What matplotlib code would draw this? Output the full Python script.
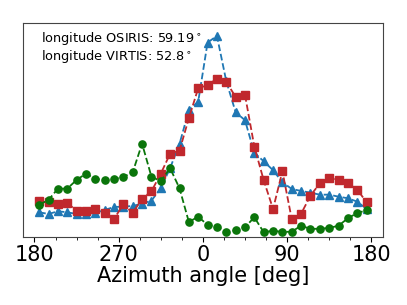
import numpy as np
import matplotlib
matplotlib.use("Agg")
import matplotlib.pyplot as plt
from matplotlib.ticker import FixedLocator, MultipleLocator

# ───────── Data ──────────────────────────────────────────────────────
azimuth = list(range(-175, 180, 10))

red_vals = [35.7, 34.7, 33.3, 34.0, 26.3, 25.7, 28.3, 24.0, 18.0, 32.7,
            24.0, 38.3, 45.7, 63.3, 83.3, 86.3, 118.7, 148.7, 151.7, 158.3,
            155.0, 140.0, 142.0, 90.3, 56.7, 28.0, 65.7, 17.7, 23.3, 41.3,
            53.7, 59.0, 57.3, 53.7, 47.3, 34.7]

blue_vals = [24.7, 23.0, 25.7, 24.7, 23.0, 23.0, 24.0, 27.0, 30.0, 30.3,
             31.0, 33.3, 36.3, 48.7, 69.0, 93.0, 126.7, 135.3, 194.3, 201.0,
             155.7, 124.7, 116.7, 84.0, 75.7, 66.7, 54.7, 48.0, 46.0, 44.3,
             42.3, 42.3, 40.3, 38.7, 35.3, 28.0]

green_vals = [32.3, 37.0, 48.3, 48.3, 57.0, 63.3, 58.0, 57.0, 58.0, 60.0,
              64.7, 93.3, 60.3, 55.7, 68.7, 48.7, 15.0, 20.3, 12.0, 10.0,
              4.7, 6.7, 9.7, 19.7, 4.7, 6.3, 5.0, 5.3, 11.3, 8.0,
              8.3, 9.0, 11.3, 18.7, 24.0, 26.7]

tick_pos = [-180, -90, 0, 90, 180]
tick_labels = ["180", "270", "0", "90", "180"]

lon_osiris = "59.19"
lon_virtis = "52.8"

# ───────── Plot ──────────────────────────────────────────────────────
fig = plt.figure(figsize=(4.07, 3.05), dpi=100)
ax = fig.add_axes([0.056, 0.223, 0.885, 0.703])

ax.plot(azimuth, blue_vals, '--^', color='#1f77b4', ms=5.2, lw=1.3, zorder=2)
ax.plot(azimuth, red_vals, '--s', color='#c0282d', ms=5.2, lw=1.3, zorder=3)
ax.plot(azimuth, green_vals, '--o', color='#0a750a', ms=5.2, lw=1.3, zorder=4)

ax.set_xlim(-192.5, 192.5)
ax.set_ylim(0, 214.3)
ax.xaxis.set_major_locator(FixedLocator(tick_pos))
ax.set_xticklabels(tick_labels)
ax.xaxis.set_minor_locator(MultipleLocator(22.5))
ax.tick_params(axis='x', which='major', labelsize=15, length=3.5, pad=2)
ax.tick_params(axis='x', which='minor', length=1.8)
ax.set_yticks([])
for sp in ax.spines.values():
    sp.set_color('#444444')

ax.set_xlabel('Azimuth angle [deg]', fontsize=15, labelpad=1)

ax.text(0.05, 0.965,
        f"longitude OSIRIS: {lon_osiris}$^\\circ$\nlongitude VIRTIS: {lon_virtis}$^\\circ$",
        transform=ax.transAxes, ha='left', va='top', fontsize=9.3,
        linespacing=1.1)

fig.savefig('out.png', dpi=100)
